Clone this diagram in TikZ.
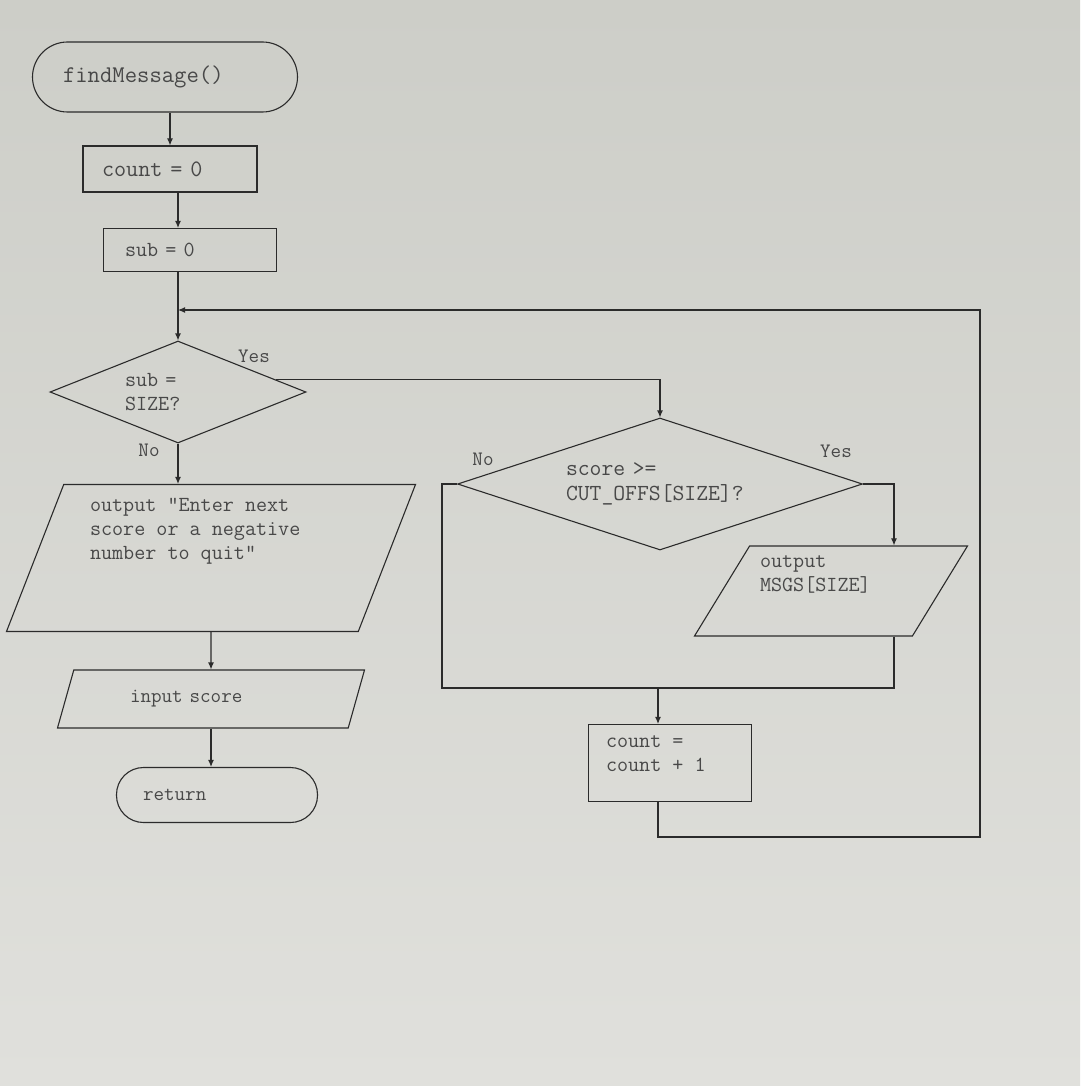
\documentclass[tikz,border=0pt]{standalone}
\usepackage{fontspec}
\usepackage{tikz}
\usetikzlibrary{arrows.meta, shapes.geometric}

\definecolor{screen}{RGB}{205,206,200}
\definecolor{screenlow}{RGB}{224,224,220}
\definecolor{ink}{RGB}{43,43,43}
\definecolor{txt}{RGB}{72,72,72}

\begin{document}
\begin{tikzpicture}[
    x=1pt, y=-1pt,
    box/.style={rectangle, draw=ink, line width=1.1pt, align=left, inner sep=0pt, text=txt, font=\ttfamily\fontsize{21.5}{24}\selectfont},
    term/.style={box, rounded corners=#1},
    io/.style={box, trapezium, trapezium stretches body},
    decision/.style={box, diamond},
    lbl/.style={text=txt, font=\ttfamily\fontsize{20.5}{22}\selectfont},
    arr/.style={-{Latex[length=7pt, width=6pt]}, draw=ink, line width=1.1pt},
    line/.style={draw=ink, line width=1.1pt}
]
\fill[top color=screen, bottom color=screenlow] (0,0) rectangle (1080,1086);
\useasboundingbox (0,0) rectangle (1080,1086);

\node[term=35pt, minimum width=265pt, minimum height=70pt, text width=204pt, font=\ttfamily\fontsize{24}{26}\selectfont] (start) at (165,77) {findMessage()};
\node[box, minimum width=174pt, minimum height=46pt, text width=136pt, font=\ttfamily\fontsize{23.5}{26}\selectfont] (cnt0) at (170,169) {count = 0};
\node[box, minimum width=173pt, minimum height=43pt, text width=130pt] (sub0) at (190,250) {sub = 0};
\node[decision, aspect=2.5, minimum width=256pt, minimum height=102pt, text width=106pt] (d1) at (178,392) {sub =\\SIZE?};
\node[io, trapezium left angle=64.5, trapezium right angle=115.5, minimum width=409pt, minimum height=147pt] (out1) at (211,558) {\parbox[c][120pt][t]{242pt}{output “Enter next\\score or a negative\\number to quit”}};
\node[io, trapezium left angle=46, trapezium right angle=134, minimum width=307pt, minimum height=58pt, text width=162pt, font=\ttfamily\fontsize{20.5}{24}\selectfont] (in1) at (211,699) {input score};
\node[term=27pt, minimum width=201pt, minimum height=55pt, text width=148pt, font=\ttfamily\fontsize{20.5}{24}\selectfont] (ret) at (217,795) {return};

\node[decision, aspect=3, minimum width=405pt, minimum height=132pt, text width=188pt, font=\ttfamily\fontsize{23}{25}\selectfont] (d2) at (660,484) {score >=\\CUT\_OFFS[SIZE]?};
\node[io, trapezium left angle=51.8, trapezium right angle=128.2, minimum width=273pt, minimum height=90pt] (out2) at (831,591) {\parbox[c][70pt][t]{142pt}{output\\MSGS[SIZE]}};
\node[box, minimum width=163pt, minimum height=77pt] (cnt1) at (670,763) {\parbox[c][55pt][t]{128pt}{count =\\count + 1}};

\node[lbl] (yes1) at (254,356) {Yes};
\node[lbl] (no1) at (149,450) {No};
\node[lbl] (no2) at (483,459) {No};
\node[lbl] (yes2) at (836,451) {Yes};

\coordinate (yturn) at (894,484);
\coordinate (nturn) at (442,484);
\coordinate (mrg) at (658,688);
\coordinate (lpbot) at (658,837);
\coordinate (lptop) at (980,310);

\draw[arr] (start.south -| cnt0.north) -- (cnt0.north);
\draw[arr] (cnt0.south -| d1.north) -- (d1.north |- sub0.north);
\draw[arr] (d1.north |- sub0.south) -- (d1.north);
\draw[arr] (d1.7) -- (d1.7 -| d2.north) -- (d2.north);
\draw[arr] (d1.south) -- (d1.south |- out1.north);
\draw[arr] (out1.south) -- (in1.north);
\draw[arr] (in1.south) -- (in1.south |- ret.north);
\draw[arr] (d2.east) -- (d2.east -| yturn) -- (yturn |- out2.north);
\draw[line] (yturn |- out2.south) -- (yturn |- mrg) -- (mrg);
\draw[line] (d2.west) -- (d2.west -| nturn) -- (nturn |- mrg) -- (mrg);
\draw[arr] (mrg) -- (mrg |- cnt1.north);
\draw[arr] (mrg |- cnt1.south) -- (lpbot) -| (lptop) -- (lptop -| d1.north);
\end{tikzpicture}
\end{document}
